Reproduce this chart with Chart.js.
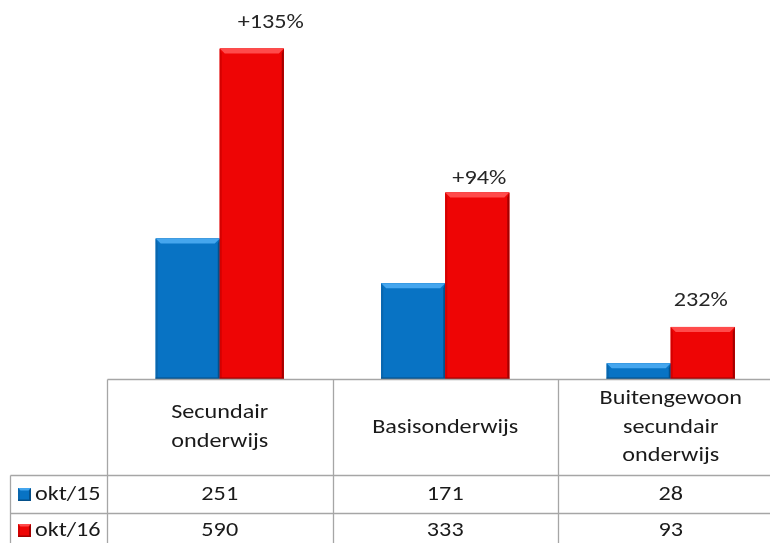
<!DOCTYPE html>
<html>
<head>
<meta charset="utf-8">
<script src="https://cdn.jsdelivr.net/npm/chart.js@4"></script>
<style>
html,body{margin:0;padding:0;background:#fff;overflow:hidden;}
#wrap{width:790px;height:543px;}
</style>
</head>
<body>
<div id="wrap"><canvas id="c" width="790" height="543"></canvas></div>
<script>
// ---- data ----
const categories = [["Secundair","onderwijs"],["Basisonderwijs"],["Buitengewoon","secundair","onderwijs"]];
const seriesNames = ["okt/15","okt/16"];
const okt15 = [251, 171, 28];
const okt16 = [590, 333, 93];
const changeLabels = ["+135%","+94%","232%"];

const FONT = '"Carlito", "Open Sans", sans-serif';
const FSIZE = 20;
const STRETCH = 1.21;
const colors = [
  {base:'#0873c4', light:'#45a6ee', dark:'#05508a', side:'#0a66ad'},
  {base:'#ee0505', light:'#ff4b4b', dark:'#a30000', side:'#d40000'}
];
// label placement offsets (style)
const labelDx = [19, 2, -2];
const labelGap = [26, 14, 26];

function sText(ctx, txt, x, y) {
  ctx.save();
  ctx.translate(x, y);
  ctx.scale(STRETCH, 1);
  ctx.fillText(txt, 0, 0);
  ctx.restore();
}

function bevelRect(ctx, l, t, r, b, c, bw) {
  ctx.save();
  ctx.fillStyle = c.base;
  ctx.fillRect(l, t, r - l, b - t);
  const h = b - t;
  const tb = Math.min(bw, h / 2);
  const sb = Math.min(2, (r - l) / 4);
  ctx.fillStyle = c.light;
  ctx.beginPath();
  ctx.moveTo(l, t); ctx.lineTo(r, t); ctx.lineTo(r - tb, t + tb); ctx.lineTo(l + tb, t + tb); ctx.closePath(); ctx.fill();
  ctx.fillStyle = c.side;
  ctx.beginPath();
  ctx.moveTo(l, t); ctx.lineTo(l + sb, t + tb); ctx.lineTo(l + sb, b); ctx.lineTo(l, b); ctx.closePath(); ctx.fill();
  ctx.fillStyle = c.dark;
  ctx.beginPath();
  ctx.moveTo(r, t); ctx.lineTo(r - sb, t + tb); ctx.lineTo(r - sb, b); ctx.lineTo(r, b); ctx.closePath(); ctx.fill();
  ctx.fillRect(l, b - 1.5, r - l, 1.5);
  ctx.restore();
}

const tablePlugin = {
  id: 'tablePlugin',
  afterDatasetsDraw(chart) {
    const ctx = chart.ctx;
    const xs = chart.scales.x;
    const area = chart.chartArea;
    const n = categories.length;
    const catW = (xs.getPixelForValue(1) - xs.getPixelForValue(0));
    chart.data.datasets.forEach((ds, di) => {
      chart.getDatasetMeta(di).data.forEach(el => {
        const p = el.getProps(['x','y','base','width'], true);
        bevelRect(ctx, p.x - p.width/2, p.y, p.x + p.width/2, p.base, colors[di], 5);
      });
    });
    ctx.save();
    ctx.fillStyle = '#262626';
    ctx.font = FSIZE + 'px ' + FONT;
    ctx.textAlign = 'center';
    ctx.textBaseline = 'middle';
    chart.getDatasetMeta(1).data.forEach((el, i) => {
      sText(ctx, changeLabels[i], el.x + labelDx[i], el.y - labelGap[i]);
    });
    ctx.restore();

    // table
    const top = Math.round(area.bottom) + 0.5;
    const hdrB = top + 96;
    const r1B = hdrB + 38;
    const r2B = r1B + 34;
    const left0 = Math.round(xs.getPixelForValue(0) - catW/2) + 0.5;
    const legL = 10.5;
    ctx.save();
    ctx.strokeStyle = '#a6a6a6';
    ctx.lineWidth = 1.3;
    ctx.beginPath();
    ctx.moveTo(left0, top); ctx.lineTo(chart.width, top);
    ctx.moveTo(legL, hdrB); ctx.lineTo(chart.width, hdrB);
    ctx.moveTo(legL, r1B); ctx.lineTo(chart.width, r1B);
    ctx.moveTo(legL, r2B); ctx.lineTo(chart.width, r2B);
    ctx.moveTo(legL, hdrB); ctx.lineTo(legL, r2B);
    for (let i = 0; i <= n; i++) {
      const bx = Math.round(xs.getPixelForValue(i) - catW/2) + 0.5;
      ctx.moveTo(bx, top); ctx.lineTo(bx, r2B);
    }
    ctx.stroke();

    ctx.fillStyle = '#1a1a1a';
    ctx.font = FSIZE + 'px ' + FONT;
    ctx.textAlign = 'center';
    ctx.textBaseline = 'middle';
    const lh = 28.5;
    categories.forEach((lines, i) => {
      const cx = xs.getPixelForValue(i);
      const cy = (top + hdrB) / 2;
      lines.forEach((ln, k) => {
        sText(ctx, ln, cx, cy + (k - (lines.length - 1)/2) * lh);
      });
    });
    const rows = [okt15, okt16];
    const rowMid = [(hdrB + r1B)/2, (r1B + r2B)/2];
    rows.forEach((vals, ri) => {
      vals.forEach((v, i) => {
        sText(ctx, String(v), xs.getPixelForValue(i), rowMid[ri]);
      });
      bevelRect(ctx, 18, rowMid[ri] - 6.5, 31, rowMid[ri] + 6.5, colors[ri], 2.5);
      ctx.textAlign = 'left';
      sText(ctx, seriesNames[ri], 35, rowMid[ri]);
      ctx.textAlign = 'center';
    });
    ctx.restore();
  }
};

new Chart(document.getElementById('c'), {
  type: 'bar',
  data: {
    labels: categories.map(c => c.join(' ')),
    datasets: [
      {label: seriesNames[0], data: okt15, backgroundColor: colors[0].base, borderWidth: 0},
      {label: seriesNames[1], data: okt16, backgroundColor: colors[1].base, borderWidth: 0}
    ]
  },
  options: {
    responsive: false,
    devicePixelRatio: 1,
    animation: false,
    layout: {padding: {left: 107, right: 6.5, top: 15, bottom: 164}},
    datasets: {bar: {categoryPercentage: 0.568, barPercentage: 1}},
    plugins: {legend: {display: false}, tooltip: {enabled: false}},
    scales: {
      x: {display: false},
      y: {display: false, min: 0, max: 650}
    }
  },
  plugins: [tablePlugin]
});
</script>
</body>
</html>
